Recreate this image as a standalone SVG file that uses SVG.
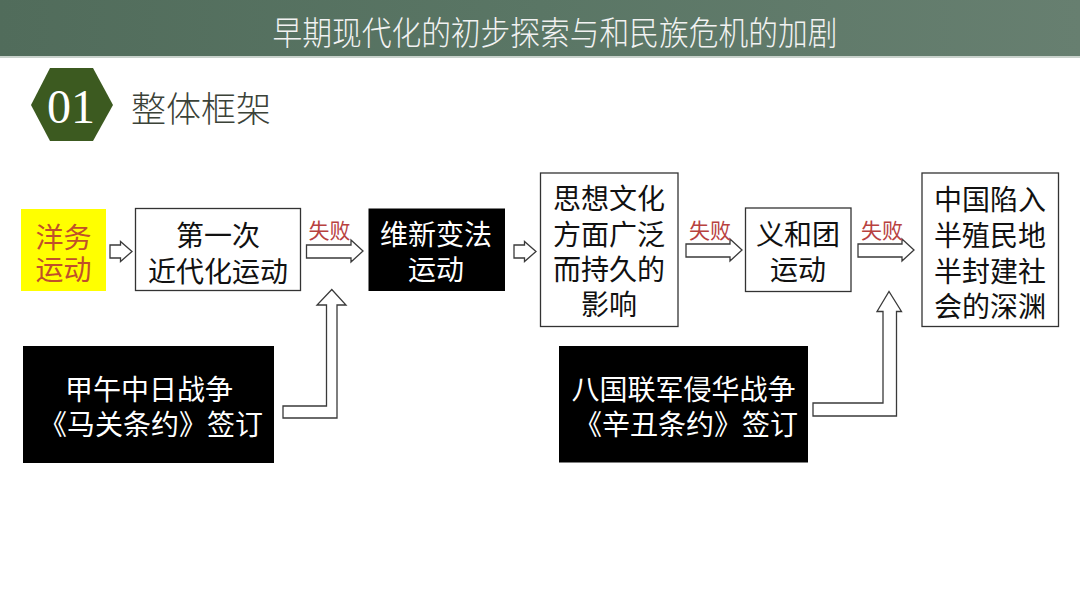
<svg xmlns="http://www.w3.org/2000/svg" width="1080" height="607" viewBox="0 0 1080 607">
<defs>
<linearGradient id="hdr" x1="0" y1="0" x2="1" y2="0">
<stop offset="0" stop-color="#516c5b"/>
<stop offset="0.5" stop-color="#5a7665"/>
<stop offset="1" stop-color="#677f70"/>
</linearGradient>
<style>
.t{font-family:"Noto Sans CJK SC","Noto Sans",sans-serif;font-size:28px;text-anchor:middle;dominant-baseline:central}
.blk{fill:#000}
.wht{fill:#fff;stroke:#333;stroke-width:1.3}
.arr{fill:#fff;stroke:#3a3a3a;stroke-width:1.3;stroke-linejoin:miter}
.fail{font-family:"Noto Sans CJK SC","Noto Sans",sans-serif;font-size:21px;fill:#b8413f;text-anchor:middle;dominant-baseline:central}
</style>
</defs>
<rect width="1080" height="607" fill="#fff"/>
<g id="header">
<rect x="0" y="0" width="1080" height="56" fill="url(#hdr)"/>
<rect x="0" y="56" width="1080" height="2" fill="#c9d2cc"/>
<text x="555" y="31" font-family="Noto Sans CJK SC, sans-serif" font-size="31" font-weight="300" fill="#f2f2f2" text-anchor="middle" dominant-baseline="central" transform="translate(555 31) scale(0.96 1.05) translate(-555 -31)">早期现代化的初步探索与和民族危机的加剧</text>
</g>
<g id="section">
<polygon points="31,105 50,68 93,68 113,105 93,141 50,141" fill="#3c5a20"/>
<text x="71" y="123" font-family="Liberation Serif, serif" font-size="48" fill="#fff" text-anchor="middle">01</text>
<text x="201" y="106" font-family="Noto Sans CJK SC, sans-serif" font-size="35" font-weight="300" fill="#3b4238" text-anchor="middle" dominant-baseline="central">整体框架</text>
</g>
<g id="n-yangwu">
<rect x="21" y="209" width="85" height="82" fill="#ffff00"/>
<text class="t" x="63.5" y="236" fill="#c0502a">洋务</text>
<text class="t" x="63.5" y="268" fill="#c0502a">运动</text>
</g>
<g id="n-first">
<rect class="wht" x="135.5" y="208.5" width="165" height="82"/>
<text class="t" x="218" y="234" fill="#111">第一次</text>
<text class="t" x="218" y="270" fill="#111">近代化运动</text>
</g>
<g id="n-weixin">
<rect class="blk" x="368.5" y="208.5" width="136.5" height="82.5"/>
<text class="t" x="436" y="233" fill="#fff">维新变法</text>
<text class="t" x="436" y="268" fill="#fff">运动</text>
</g>
<g id="n-sixiang">
<rect class="wht" x="540.5" y="173" width="137.5" height="153.5"/>
<text class="t" x="609" y="197" fill="#111">思想文化</text>
<text class="t" x="609" y="233" fill="#111">方面广泛</text>
<text class="t" x="609" y="268" fill="#111">而持久的</text>
<text class="t" x="609" y="303" fill="#111">影响</text>
</g>
<g id="n-yihetuan">
<rect class="wht" x="745.5" y="208" width="105.5" height="83.5"/>
<text class="t" x="798" y="233" fill="#111">义和团</text>
<text class="t" x="798" y="268" fill="#111">运动</text>
</g>
<g id="n-china">
<rect class="wht" x="922" y="173" width="136.5" height="153.5"/>
<text class="t" x="990" y="198" fill="#111">中国陷入</text>
<text class="t" x="990" y="234" fill="#111">半殖民地</text>
<text class="t" x="990" y="270" fill="#111">半封建社</text>
<text class="t" x="990" y="305" fill="#111">会的深渊</text>
</g>
<g id="n-jiawu">
<rect class="blk" x="23" y="346" width="251" height="117"/>
<text class="t" x="149" y="388" fill="#fff">甲午中日战争</text>
<text class="t" x="151" y="423" fill="#fff">《马关条约》签订</text>
</g>
<g id="n-baguo">
<rect class="blk" x="559" y="346" width="249" height="116.5"/>
<text class="t" x="683.5" y="388" fill="#fff">八国联军侵华战争</text>
<text class="t" x="686" y="423" fill="#fff">《辛丑条约》签订</text>
</g>
<g id="connectors">
<path class="arr" d="M110,245 H120.5 V241.5 L132,251.5 L120.5,261.5 V258 H110 Z"/>
<path class="arr" d="M514,245 H524.5 V241.5 L536,251.5 L524.5,261.5 V258 H514 Z"/>
<path class="arr" d="M306.5,245 H351 V240 L363,251 L351,262 V258 H306.5 Z"/>
<path class="arr" d="M686,244 H730 V239 L742,250 L730,261 V257 H686 Z"/>
<path class="arr" d="M858,244 H902 V239 L914,250 L902,261 V257 H858 Z"/>
<path class="arr" d="M283,406 H326.5 V305 H317 L331.8,289.5 L346,305 H337 V418 H283 Z"/>
<path class="arr" d="M813,403 H883 V311.5 H877 L889,291.5 L901.5,311.5 H896.5 V416 H813 Z"/>
<text class="fail" x="329.5" y="229">失败</text>
<text class="fail" x="710" y="229">失败</text>
<text class="fail" x="882" y="229">失败</text>
</g>
</svg>
